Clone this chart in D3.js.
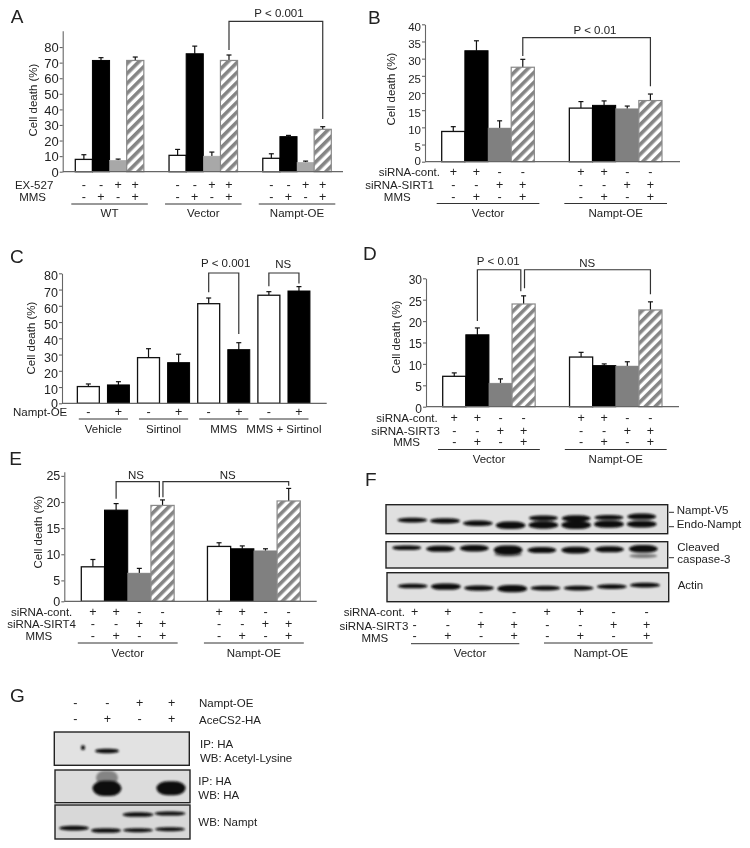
<!DOCTYPE html>
<html>
<head>
<meta charset="utf-8">
<script src="https://cdn.jsdelivr.net/npm/d3@7"></script>
<style>
  body { margin: 0; background: #fff; }
  svg { display: block; filter: blur(0.35px); }
  text { font-family: "Liberation Sans", Arial, sans-serif; fill: #222; }
  .axis path, .axis line { stroke: #666; stroke-width: 1.1; }
  .axis text { font-family: "Liberation Sans", Arial, sans-serif; fill: #222; }
</style>
</head>
<body>
<script>
// panel A
const groupsA = ['WT', 'Vector', 'Nampt-OE'];
const valuesA = [[7.9, 71.4, 7.3, 71.4], [10.5, 75.7, 10, 71.4], [8.6, 22.5, 6, 27.2]];
const errTopA = [[10.9, 73.2, 8.1, 73.6], [14.3, 80.6, 12.6, 74.9], [11.5, 23.3, 6.8, 28.9]];
const ticksA = [0, 10, 20, 30, 40, 50, 60, 70, 80];
const rowNamesA = ['EX-527', 'MMS'];
const signsA = [['-', '-', '+', '+'], ['-', '+', '-', '+']];

// panel B
const groupsB = ['Vector', 'Nampt-OE'];
const valuesB = [[8.8, 32.3, 9.8, 27.5], [15.6, 16.4, 15.4, 17.8]];
const errTopB = [[10.2, 35.2, 11.9, 29.8], [17.5, 17.7, 16.2, 19.7]];
const ticksB = [0, 5, 10, 15, 20, 25, 30, 35, 40];
const rowNamesB = ['siRNA-cont.', 'siRNA-SIRT1', 'MMS'];
const signsB = [['+', '+', '-', '-'], ['-', '-', '+', '+'], ['-', '+', '-', '+']];

// panel C
const groupsC = ['Vehicle', 'Sirtinol', 'MMS', 'MMS + Sirtinol'];
const valuesC = [[10.3, 11.3], [28.1, 25], [61.3, 33], [66.5, 69.1]];
const errTopC = [[11.9, 13.3], [33.6, 30.2], [64.8, 37.3], [68.7, 71.8]];
const ticksC = [0, 10, 20, 30, 40, 50, 60, 70, 80];
const rowNamesC = ['Nampt-OE'];
const signsC = [['-', '+']];

// panel D
const groupsD = ['Vector', 'Nampt-OE'];
const valuesD = [[7.1, 16.8, 5.5, 24], [11.6, 9.6, 9.5, 22.6]];
const errTopD = [[7.9, 18.4, 6.5, 25.9], [12.7, 10, 10.5, 24.5]];
const ticksD = [0, 5, 10, 15, 20, 25, 30];
const rowNamesD = ['siRNA-cont.', 'siRNA-SIRT3', 'MMS'];

// panel E
const groupsE = ['Vector', 'Nampt-OE'];
const valuesE = [[7.6, 18.45, 6.4, 19.35], [11.5, 11.05, 10.66, 20.2]];
const errTopE = [[9, 19.7, 7.3, 20.4], [12.2, 11.6, 11.05, 22.6]];
const ticksE = [0, 5, 10, 15, 20, 25];
const rowNamesE = ['siRNA-cont.', 'siRNA-SIRT4', 'MMS'];

// panel F, lanes left to right; migration is % of blot height, signal is band strength
const lanesF = [1, 2, 3, 4, 5, 6, 7, 8];
const endoMigration = [53, 56, 64, 71, 70, 70, 67, 67];
const endoSignal = [0.58, 0.66, 0.66, 0.92, 0.92, 1, 0.92, 0.83];
const v5Migration = [null, null, null, null, 46, 47, 44, 41];
const v5Signal = [0, 0, 0, 0, 0.66, 0.75, 0.6, 0.75];
const caspMigration = [23, 27, 25, 32, 32, 32, 29, 27];
const caspSignal = [0.58, 0.75, 0.83, 1.15, 0.75, 0.83, 0.75, 0.92];
const cleavedMigration = [null, null, null, 48, null, null, null, 54];
const cleavedSignal = [0, 0, 0, 0.6, 0, 0, 0, 0.5];
const actinMigration = [46, 48, 53, 55, 53, 53, 48, 43];
const actinSignal = [0.58, 0.8, 0.66, 0.92, 0.58, 0.58, 0.58, 0.58];
const rowNamesF = ['siRNA-cont.', 'siRNA-SIRT3', 'MMS'];
const groupsF = ['Vector', 'Nampt-OE'];
const signsF = [['+', '+', '-', '-', '+', '+', '-', '-'], ['-', '-', '+', '+', '-', '-', '+', '+'], ['-', '+', '-', '+', '-', '+', '-', '+']];

// panel G
const lanesG = [1, 2, 3, 4];
const acetylMigration = [null, 57, null, null];
const acetylSignal = [0, 0.58, 0, 0];
const spotMigration = [47, null, null, null];
const spotSignal = [0.6, 0, 0, 0];
const haMigration = [null, 56, null, 56];
const haSignal = [0, 1.9, 0, 1.75];
const smearMigration = [null, 24, null, null];
const smearSignal = [0, 1.8, 0, 0];
const namptUpperMigration = [null, null, 28, 25];
const namptUpperSignal = [0, 0, 0.58, 0.5];
const namptLowerMigration = [68, 75, 74, 71];
const namptLowerSignal = [0.58, 0.58, 0.5, 0.5];
const signsG = [['-', '-', '+', '+'], ['-', '+', '-', '+']];

const svg = d3.select('body').append('svg').attr('width', 750).attr('height', 848);
const defs = svg.append('defs');

const hatch = defs.append('pattern').attr('id', 'hatch')
  .attr('patternUnits', 'userSpaceOnUse').attr('width', 7).attr('height', 7)
  .attr('patternTransform', 'rotate(45)');
hatch.append('rect').attr('width', 7).attr('height', 7).attr('fill', '#fff');
hatch.append('rect').attr('width', 3.6).attr('height', 7).attr('fill', '#858585');

defs.append('filter').attr('id', 'soft').attr('x', '-20%').attr('y', '-50%').attr('width', '140%').attr('height', '200%')
  .append('feGaussianBlur').attr('stdDeviation', 0.9);

const label = (x, y, str, anchor = 'start', size = 11.5) => svg.append('text')
  .attr('x', x).attr('y', y).attr('text-anchor', anchor).attr('font-size', size).text(str);

const sign = (x, y, s) => label(x, y + 4, s, 'middle', 12.5);

const segment = (x1, y1, x2, y2, color = '#333', w = 1) => svg.append('line')
  .attr('x1', x1).attr('y1', y1).attr('x2', x2).attr('y2', y2)
  .attr('stroke', color).attr('stroke-width', w);

const barStyles = {
  white: {fill: '#fff', stroke: '#111', sw: 1.3},
  black: {fill: '#000', stroke: '#000', sw: 1},
  grey: {fill: '#808080', stroke: '#808080', sw: 0.5},
  light: {fill: '#a8a8a8', stroke: '#a8a8a8', sw: 0.5},
  hatch: {fill: 'url(#hatch)', stroke: '#8a8a8a', sw: 1.2}
};

const drawBars = (p) => {
  const x0 = d3.scaleBand().domain(p.groups).range(p.xRange).paddingInner(p.groupGap);
  const x1 = d3.scaleBand().domain(d3.range(p.kinds.length)).range([0, x0.bandwidth()])
    .paddingInner(p.barGap || 0).paddingOuter((p.barGap || 0) / 2);
  const y = d3.scaleLinear().domain(p.yDomain).range(p.yRange).clamp(!!p.clamp);
  const base = p.yRange[0];

  const rows = p.groups.flatMap((g, i) => p.kinds.map((k, j) => (
    {g, j, k, v: p.values[i][j], top: p.errTop[i][j]}
  )));
  const cx = d => x0(d.g) + x1(d.j) + x1.bandwidth() / 2;

  // error bars go first, only the part above the bar shows
  const err = svg.append('g').attr('stroke', '#111').attr('stroke-width', 1.2);
  err.selectAll('line.stem').data(rows).join('line').attr('class', 'stem')
    .attr('x1', cx).attr('x2', cx).attr('y1', d => y(d.v)).attr('y2', d => y(d.top));
  err.selectAll('line.cap').data(rows).join('line').attr('class', 'cap')
    .attr('x1', d => cx(d) - 2.5).attr('x2', d => cx(d) + 2.5)
    .attr('y1', d => y(d.top)).attr('y2', d => y(d.top));

  svg.append('g').selectAll('rect').data(rows).join('rect')
    .attr('x', d => x0(d.g) + x1(d.j))
    .attr('y', d => y(d.v))
    .attr('width', x1.bandwidth())
    .attr('height', d => base - y(d.v))
    .attr('fill', d => barStyles[d.k].fill)
    .attr('stroke', d => barStyles[d.k].stroke)
    .attr('stroke-width', d => barStyles[d.k].sw);

  const axis = svg.append('g').attr('class', 'axis')
    .attr('transform', `translate(${p.axisX},0)`)
    .call(d3.axisLeft(y).tickValues(p.ticks).tickSize(3).tickSizeOuter(0).tickPadding(1));
  axis.selectAll('text').attr('font-size', p.tickSize)
    .attr('transform', d => `translate(0,${d === 0 ? p.zeroDy : p.tickDy})`);
  segment(p.axisX, base, p.axisEnd, base, '#666', 1.2);

  label(p.titleX, p.titleY, 'Cell death (%)', 'middle')
    .attr('transform', `rotate(-90,${p.titleX},${p.titleY})`);

  // rows of + and - under the bars
  p.rowNames.forEach((name, r) => label(p.rowEnds[r], p.rowY[r] + 4, name, 'end'));
  p.groups.forEach(g => {
    p.signs.forEach((row, r) => row.forEach((s, j) => {
      sign(x0(g) + x1(j) + x1.bandwidth() / 2, p.rowY[r], s);
    }));
    segment(x0(g) - p.linePad, p.lineY, x0(g) + x0.bandwidth() + p.linePad, p.lineY);
    label(x0(g) + x0.bandwidth() / 2, p.groupY, g, 'middle');
  });

  p.brackets.forEach(b => {
    const xa = x0(b.from[0]) + x1(b.from[1]) + x1.bandwidth() / 2 + (b.dxa || 0);
    const xb = x0(b.to[0]) + x1(b.to[1]) + x1.bandwidth() / 2 + (b.dxb || 0);
    svg.append('path')
      .attr('d', d3.line()([[xa, y(b.start)], [xa, y(b.top)], [xb, y(b.top)], [xb, y(b.end)]]))
      .attr('fill', 'none').attr('stroke', '#333').attr('stroke-width', 1.2);
    label(b.labelX, b.labelY, b.text, 'middle');
  });
};

drawBars({
  groups: groupsA, values: valuesA, errTop: errTopA, ticks: ticksA,
  kinds: ['white', 'black', 'light', 'hatch'],
  xRange: [75.3, 331.3], groupGap: 0.269,
  yDomain: [0, 90.5], yRange: [171.7, 30.7], axisX: 62.7, axisEnd: 343,
  tickSize: 13, tickDy: 0.5, zeroDy: 0.5, titleX: 37, titleY: 100,
  rowNames: rowNamesA, rowEnds: [53.3, 46], rowY: [184.5, 196.5], signs: signsA,
  lineY: 204, linePad: 4, groupY: 216.5,
  brackets: [{from: ['Vector', 3], to: ['Nampt-OE', 3], start: 78.1, top: 96.5, end: 33.8, text: 'P < 0.001', labelX: 279, labelY: 16.5}]
});

drawBars({
  groups: groupsB, values: valuesB, errTop: errTopB, ticks: ticksB,
  kinds: ['white', 'black', 'grey', 'hatch'],
  xRange: [441.7, 662], groupGap: 0.274,
  yDomain: [0, 40], yRange: [161.7, 24.3], axisX: 425, axisEnd: 680,
  tickSize: 11.5, tickDy: 2.5, zeroDy: -1, titleX: 395, titleY: 89,
  rowNames: rowNamesB, rowEnds: [440, 434, 410.7], rowY: [172.3, 185, 197.3], signs: signsB,
  lineY: 203.5, linePad: 5, groupY: 217,
  brackets: [{from: ['Vector', 3], to: ['Nampt-OE', 3], start: 30.8, top: 36.1, end: 22, text: 'P < 0.01', labelX: 595, labelY: 34}]
});

drawBars({
  groups: groupsC, values: valuesC, errTop: errTopC, ticks: ticksC,
  kinds: ['white', 'black'],
  xRange: [73.3, 314], groupGap: 0, barGap: 0.27,
  yDomain: [0, 80], yRange: [403.3, 273.3], axisX: 62, axisEnd: 326.7,
  tickSize: 12.5, tickDy: 2.5, zeroDy: 0, titleX: 35, titleY: 338,
  rowNames: rowNamesC, rowEnds: [67.3], rowY: [412.3], signs: signsC,
  lineY: 419, linePad: -5.5, groupY: 433,
  brackets: [
    {from: ['MMS', 0], to: ['MMS', 1], start: 68.3, top: 80.2, end: 42.6, text: 'P < 0.001', labelX: 225.7, labelY: 266.7},
    {from: ['MMS + Sirtinol', 0], to: ['MMS + Sirtinol', 1], start: 72, top: 80.2, end: 73.8, text: 'NS', labelX: 283.3, labelY: 267.7}
  ]
});

drawBars({
  groups: groupsD, values: valuesD, errTop: errTopD, ticks: ticksD,
  kinds: ['white', 'black', 'grey', 'hatch'],
  xRange: [442.7, 662], groupGap: 0.271,
  yDomain: [0, 30], yRange: [406.7, 278.3], axisX: 426, axisEnd: 679,
  tickSize: 12, tickDy: 1.5, zeroDy: 1.5, titleX: 400, titleY: 337,
  rowNames: rowNamesD, rowEnds: [437.7, 440, 420], rowY: [417.7, 430.7, 442], signs: signsB,
  lineY: 449.5, linePad: 4.7, groupY: 463,
  brackets: [
    {from: ['Vector', 1], to: ['Vector', 3], dxb: -2.8, start: 20, top: 32, end: 27, text: 'P < 0.01', labelX: 498.3, labelY: 265},
    {from: ['Vector', 3], to: ['Nampt-OE', 3], dxa: 0.9, start: 27.7, top: 32, end: 26.3, text: 'NS', labelX: 587.3, labelY: 266.7}
  ]
});

drawBars({
  groups: groupsE, values: valuesE, errTop: errTopE, ticks: ticksE,
  kinds: ['white', 'black', 'grey', 'hatch'],
  xRange: [81.3, 300.3], groupGap: 0.264, clamp: true,
  yDomain: [1, 25.8], yRange: [601.3, 471.7], axisX: 64.3, axisEnd: 316.7,
  tickSize: 12.5, tickDy: 0, zeroDy: 0, titleX: 42, titleY: 532,
  rowNames: rowNamesE, rowEnds: [72.3, 76, 52.3], rowY: [611.7, 624.3, 636], signs: signsB,
  lineY: 643, linePad: 3.5, groupY: 656.7,
  brackets: [
    {from: ['Vector', 1], to: ['Vector', 3], dxb: -3.2, start: 20.6, top: 23.9, end: 20.9, text: 'NS', labelX: 136, labelY: 479},
    {from: ['Vector', 3], to: ['Nampt-OE', 3], dxa: 0.4, start: 20.9, top: 23.9, end: 23.1, text: 'NS', labelX: 227.7, labelY: 479}
  ]
});

// western blots: bands go through a lane scale and two value scales
const bandHeight = d3.scaleLinear().domain([0, 1]).range([0, 8]);

const drawBlot = (frame, lanes, laneRange, sets, bg = '#e0e0e0') => {
  const x = d3.scalePoint().domain(lanes).range(laneRange);
  const y = d3.scaleLinear().domain([0, 100]).range([frame.y0, frame.y1]);
  svg.append('rect').attr('x', frame.x0).attr('y', frame.y0)
    .attr('width', frame.x1 - frame.x0).attr('height', frame.y1 - frame.y0)
    .attr('fill', bg);
  const g = svg.append('g').attr('filter', 'url(#soft)');
  sets.forEach(s => {
    const rows = lanes.map((l, i) => ({l, m: s.migration[i], v: s.signal[i]})).filter(d => d.m !== null);
    g.append('g').selectAll('rect').data(rows).join('rect')
      .attr('x', d => x(d.l) - s.width / 2 + (s.dx || 0))
      .attr('y', d => y(d.m) - bandHeight(d.v) / 2)
      .attr('width', s.width)
      .attr('height', d => bandHeight(d.v))
      .attr('rx', s.width / 2.6)
      .attr('ry', d => bandHeight(d.v) / 2)
      .attr('fill', '#0d0d0d')
      .attr('opacity', s.opacity || 1);
  });
  svg.append('rect').attr('x', frame.x0).attr('y', frame.y0)
    .attr('width', frame.x1 - frame.x0).attr('height', frame.y1 - frame.y0)
    .attr('fill', 'none').attr('stroke', '#222').attr('stroke-width', 1.4);
};

drawBlot({x0: 386, x1: 667.7, y0: 504.7, y1: 533.7}, lanesF, [412.3, 641.7], [
  {migration: endoMigration, signal: endoSignal, width: 30},
  {migration: v5Migration, signal: v5Signal, width: 29}
]);
drawBlot({x0: 386, x1: 667.7, y0: 541.7, y1: 568}, lanesF, [406.7, 643.3], [
  {migration: caspMigration, signal: caspSignal, width: 29},
  {migration: cleavedMigration, signal: cleavedSignal, width: 28, opacity: 0.45}
]);
drawBlot({x0: 387, x1: 668.7, y0: 572.7, y1: 601.7}, lanesF, [412.7, 645], [
  {migration: actinMigration, signal: actinSignal, width: 30}
]);

label(676.7, 514, 'Nampt-V5');
label(676.7, 528.3, 'Endo-Nampt');
label(677.3, 550.7, 'Cleaved');
label(677.3, 563, 'caspase-3');
label(677.7, 589, 'Actin');
segment(669, 512.3, 674, 512.3);
segment(669, 526.7, 674, 526.7);
segment(669, 557.7, 674, 557.7);

const signXF = d3.scalePoint().domain(lanesF).range([414.7, 646.7]);
const rowYF = [612, 625, 636];
signsF.forEach((row, r) => row.forEach((s, i) => sign(signXF(lanesF[i]), rowYF[r], s)));
label(405, 615.7, rowNamesF[0], 'end');
label(408.3, 629.7, rowNamesF[1], 'end');
label(388.3, 642.3, rowNamesF[2], 'end');
segment(411, 643.7, 519.3, 643.7);
segment(544, 643, 652.7, 643);
label(470, 657.3, groupsF[0], 'middle');
label(601, 656.7, groupsF[1], 'middle');

drawBlot({x0: 54.3, x1: 189.3, y0: 732, y1: 765.3}, lanesG, [75, 171], [
  {migration: acetylMigration, signal: acetylSignal, width: 24},
  {migration: spotMigration, signal: spotSignal, width: 4, dx: 8}
], '#e2e2e2');
drawBlot({x0: 55, x1: 190, y0: 770, y1: 802.7}, lanesG, [75, 171], [
  {migration: smearMigration, signal: smearSignal, width: 22, opacity: 0.4},
  {migration: haMigration, signal: haSignal, width: 29}
], '#dcdcdc');
drawBlot({x0: 55, x1: 190, y0: 805, y1: 839}, lanesG, [74, 170], [
  {migration: namptUpperMigration, signal: namptUpperSignal, width: 31},
  {migration: namptLowerMigration, signal: namptLowerSignal, width: 30}
], '#d8d8d8');

const signXG = d3.scalePoint().domain(lanesG).range([75.3, 171.7]);
const rowYG = [703, 719.3];
signsG.forEach((row, r) => row.forEach((s, i) => sign(signXG(lanesG[i]), rowYG[r], s)));
label(199, 706.7, 'Nampt-OE');
label(199, 724.3, 'AceCS2-HA');
label(200, 748.3, 'IP: HA');
label(200, 762.3, 'WB: Acetyl-Lysine');
label(198.3, 785, 'IP: HA');
label(198.3, 799.3, 'WB: HA');
label(198.3, 826, 'WB: Nampt');

// panel letters
[['A', 10.7, 23.3], ['B', 368, 24.3], ['C', 10, 263.3], ['D', 363, 260], ['E', 9.3, 465], ['F', 365, 486], ['G', 10, 701.7]]
  .forEach(d => label(d[1], d[2], d[0], 'start', 19));
</script>
</body>
</html>
